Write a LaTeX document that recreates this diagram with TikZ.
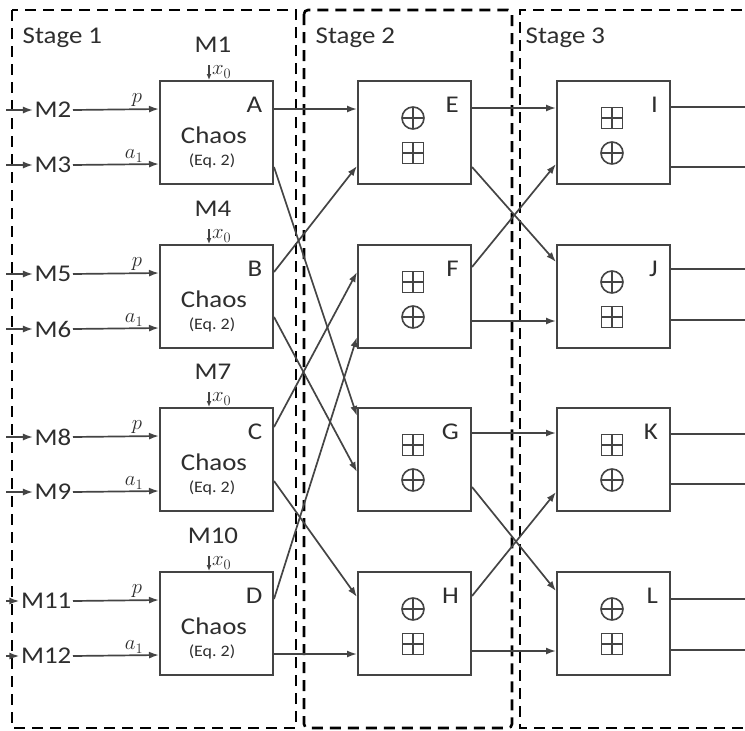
\documentclass[tikz,border=0pt]{standalone}
\usepackage{fontspec}
\setmainfont[FakeStretch=1.12]{Carlito}
\usetikzlibrary{arrows.meta}
\definecolor{ln}{HTML}{444444}
\definecolor{tx}{HTML}{2E2E2E}
\tikzset{
  box/.style={draw=ln, line width=2pt, minimum width=113pt, minimum height=103pt, inner sep=0pt, fill=white},
  lbl/.style={text=tx, font=\fontsize{24}{26}\selectfont, inner sep=1.5pt},
  smalltxt/.style={text=tx, font=\fontsize{16}{18}\selectfont, inner sep=0pt},
  mlbl/.style={text=tx, font=\fontsize{21}{23}\selectfont, inner sep=0pt},
  conn/.style={draw=ln, line width=1.8pt},
  arr/.style={draw=ln, line width=1.7pt, -{Latex[length=10pt,width=7pt]}},
  arrs/.style={draw=ln, line width=1.4pt, -{Latex[length=6pt,width=5pt]}},
  frame/.style={draw=black, line width=2.6pt, dash pattern=on 11pt off 7pt},
  symline/.style={draw=ln, line width=1.5pt},
  xorsym/.style={circle, draw=ln, line width=1.6pt, minimum size=22pt, inner sep=0pt,
    path picture={\draw[symline] (path picture bounding box.north) -- (path picture bounding box.south)
      (path picture bounding box.west) -- (path picture bounding box.east);}},
  addsym/.style={rectangle, draw=ln, line width=1.6pt, minimum size=21pt, inner sep=0pt,
    path picture={\draw[symline] (path picture bounding box.north) -- (path picture bounding box.south)
      (path picture bounding box.west) -- (path picture bounding box.east);}}
}
\begin{document}
\begin{tikzpicture}[x=1pt,y=-1pt]
\useasboundingbox[fill=white] (0,0) rectangle (745,731);

% stage frames
\draw[frame] (12,10) rectangle (296,728);
\draw[frame, rounded corners=4pt] (304,10) rectangle (512,728);
\draw[frame] (760,10) -- (520,10) -- (520,728) -- (760,728);
\node[lbl, anchor=base west] (st1) at (21,43) {Stage 1};
\node[lbl, anchor=base west] (st2) at (314,43) {Stage 2};
\node[lbl, anchor=base west] (st3) at (524,43) {Stage 3};

% stage 1: chaos boxes
\foreach \b/\t/\mt/\mp/\ma in {A/81/1/2/3, B/245/4/5/6, C/408/7/8/9, D/572/10/11/12}{
  \node[box] (\b) at (216.5,\t+51.5) {};
  \node[lbl, anchor=base east] (\b-id) at (264,\t+31) {\b};
  \node[lbl, anchor=base] (\b-ch) at (214,\t+62) {Chaos};
  \node[smalltxt, anchor=base] (\b-eq) at (212,\t+84) {(Eq.~2)};
  \node[lbl, anchor=base] (M\mt) at (213,\t-29) {M\mt};
  \coordinate (\b-x0) at (209,\t-16);
  \draw[arrs] (\b-x0) -- (\b-x0 |- \b.north);
  \node[mlbl, anchor=west] (\b-xl) at (212,\t-9) {$x_0$};
  \node[lbl, anchor=east] (M\mp) at (73,\t+29) {M\mp};
  \node[lbl, anchor=east] (M\ma) at (73,\t+84) {M\ma};
  \coordinate (M\mp-in) at (6,\t+29);
  \coordinate (M\ma-in) at (6,\t+84);
  \draw[arr] (M\mp-in) -- (M\mp.west);
  \draw[arr] (M\ma-in) -- (M\ma.west);
  \draw[arr] (M\mp.east) -- ([yshift=-29pt]\b.north west);
  \draw[arr] (M\ma.east) -- ([yshift=-84pt]\b.north west);
  \node[mlbl, anchor=center] (\b-p) at (137,\t+19) {$p$};
  \node[mlbl, anchor=center] (\b-a) at (134,\t+75) {$a_1$};
}

% stage 2 and 3 boxes
\foreach \b/\x/\t/\su/\sd in {E/414.5/81/xorsym/addsym, F/414.5/245/addsym/xorsym, G/414.5/408/addsym/xorsym, H/414.5/572/xorsym/addsym,
  I/613.5/81/addsym/xorsym, J/613.5/245/xorsym/addsym, K/613.5/408/addsym/xorsym, L/613.5/572/xorsym/addsym}{
  \node[box] (\b) at (\x,\t+51.5) {};
  \node[lbl, anchor=base east] (\b-id) at (\x+46,\t+31) {\b};
  \node[\su] (\b-s1) at (\x-1.5,\t+37) {};
  \node[\sd] (\b-s2) at (\x-1.5,\t+72) {};
}

% stage 1 -> stage 2
\draw[arr] ([yshift=-29pt]A.north east) -- ([yshift=-29pt]E.north west);
\draw[arr] ([yshift=-87pt]A.north east) -- ([yshift=-9pt]G.north west);
\draw[arr] ([yshift=-28pt]B.north east) -- ([yshift=-86pt]E.north west);
\draw[arr] ([yshift=-73pt]B.north east) -- ([yshift=-65pt]G.north west);
\draw[arr] ([yshift=-20pt]C.north east) -- ([yshift=-28pt]F.north west);
\draw[arr] ([yshift=-74pt]C.north east) -- ([yshift=-26pt]H.north west);
\draw[arr] ([yshift=-28pt]D.north east) -- ([yshift=-93pt]F.north west);
\draw[arr] ([yshift=-83pt]D.north east) -- ([yshift=-83pt]H.north west);

% stage 2 -> stage 3
\draw[arr] ([yshift=-28pt]E.north east) -- ([yshift=-28pt]I.north west);
\draw[arr] ([yshift=-87pt]E.north east) -- ([yshift=-18pt]J.north west);
\draw[arr] ([yshift=-23pt]F.north east) -- ([yshift=-84pt]I.north west);
\draw[arr] ([yshift=-77pt]F.north east) -- ([yshift=-77pt]J.north west);
\draw[arr] ([yshift=-26pt]G.north east) -- ([yshift=-26pt]K.north west);
\draw[arr] ([yshift=-80pt]G.north east) -- ([yshift=-20pt]L.north west);
\draw[arr] ([yshift=-25pt]H.north east) -- ([yshift=-85pt]K.north west);
\draw[arr] ([yshift=-80pt]H.north east) -- ([yshift=-80pt]L.north west);

% stage 3 outputs
\foreach \b/\o/\u in {I/27/87, J/25/76, K/27/77, L/28/79}{
  \draw[conn] ([yshift=-\o pt]\b.north east) -- ++(90,0);
  \draw[conn] ([yshift=-\u pt]\b.north east) -- ++(90,0);
}
\end{tikzpicture}
\end{document}
